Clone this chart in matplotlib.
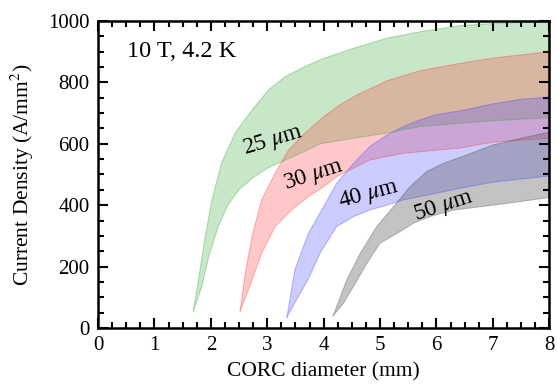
import matplotlib

matplotlib.use("Agg")
import matplotlib.pyplot as plt
import numpy as np
from matplotlib.ticker import MultipleLocator

plt.rcParams["font.family"] = ["Liberation Serif", "DejaVu Serif"]
plt.rcParams["mathtext.fontset"] = "stix"

# Critical current density bands per tape thickness (upper / lower bounds)
d25_up = [1.69, 1.78, 1.90, 2.02, 2.19, 2.43, 2.73, 3.02, 3.32, 3.67, 4.0, 4.53, 5.12, 5.71, 6.42, 7.2, 8.0]
j25_up = [55, 156, 297, 417, 537, 635, 710, 775, 819, 852, 878, 911, 944, 965, 985, 994, 997]
d25_lo = [1.69, 1.84, 1.96, 2.13, 2.3, 2.5, 2.75, 3.0, 3.3, 3.6, 3.94, 4.53, 5.12, 5.71, 6.42, 7.0, 8.0]
j25_lo = [55, 135, 230, 330, 400, 450, 490, 520, 545, 570, 600, 618, 635, 656, 667, 675, 685]

d30_up = [2.52, 2.61, 2.73, 2.9, 3.14, 3.38, 3.67, 4.0, 4.3, 4.6, 5.12, 5.71, 6.42, 7.0, 8.0]
j30_up = [55, 178, 297, 417, 504, 580, 635, 688, 728, 760, 805, 838, 862, 879, 900]
d30_lo = [2.52, 2.73, 2.9, 3.14, 3.43, 3.73, 4.0, 4.23, 4.82, 5.41, 6.42, 7.0, 8.0]
j30_lo = [55, 156, 243, 330, 384, 428, 460, 493, 547, 569, 586, 605, 618]

d40_up = [3.35, 3.49, 3.73, 4.0, 4.23, 4.53, 4.82, 5.12, 5.41, 5.71, 6.0, 6.5, 7.0, 7.5, 8.0]
j40_up = [35, 189, 308, 395, 471, 536, 591, 628, 656, 678, 695, 710, 730, 745, 752]
d40_lo = [3.35, 3.5, 3.73, 3.94, 4.23, 4.53, 4.82, 5.12, 5.41, 5.71, 6.42, 7.0, 8.0]
j40_lo = [35, 85, 160, 245, 330, 363, 384, 400, 417, 428, 455, 475, 495]

d50_up = [4.17, 4.41, 4.65, 4.94, 5.24, 5.53, 5.83, 6.12, 6.42, 7.0, 7.5, 8.0]
j50_up = [40, 156, 243, 330, 395, 460, 510, 536, 556, 596, 618, 638]
d50_lo = [4.17, 4.35, 4.53, 4.77, 5.0, 5.3, 5.59, 5.89, 6.3, 7.0, 7.5, 8.0]
j50_lo = [40, 80, 135, 211, 276, 308, 341, 363, 384, 400, 412, 425]

bands = [
    ("25 $\\mu$m", d25_up, j25_up, d25_lo, j25_lo, "#3caa3c", 0.28),
    ("30 $\\mu$m", d30_up, j30_up, d30_lo, j30_lo, "#ff3c3c", 0.28),
    ("40 $\\mu$m", d40_up, j40_up, d40_lo, j40_lo, "#4b4bff", 0.28),
    ("50 $\\mu$m", d50_up, j50_up, d50_lo, j50_lo, "#555555", 0.35),
]

# label placement (diameter, current density, rotation)
label_pos = [(3.11, 612, 17), (3.82, 498, 18), (4.81, 435, 15), (6.13, 398, 18)]

fig = plt.figure(figsize=(5.57, 3.89), dpi=100)
ax = fig.add_axes([0.176, 0.157, 0.81, 0.789])

for (name, xu, yu, xl, yl, color, alpha), (lx, ly, rot) in zip(bands, label_pos):
    px = np.concatenate([xu, xl[::-1]])
    py = np.concatenate([yu, yl[::-1]])
    ax.fill(px, py, facecolor=color, alpha=alpha, edgecolor="none")
    ax.plot(xu, yu, color=color, alpha=0.35, lw=0.8)
    ax.plot(xl, yl, color=color, alpha=0.35, lw=0.8)
    ax.text(lx, ly, name, rotation=rot, ha="center", va="center", fontsize=17)

ax.text(0.52, 902, "10 T, 4.2 K", fontsize=17.5, va="center")

ax.set_xlim(0, 8)
ax.set_ylim(0, 1000)
ax.xaxis.set_major_locator(MultipleLocator(1))
ax.xaxis.set_minor_locator(MultipleLocator(0.25))
ax.yaxis.set_major_locator(MultipleLocator(200))
ax.yaxis.set_minor_locator(MultipleLocator(50))
ax.tick_params(which="both", direction="in", top=True, right=True, width=1.5, labelsize=15)
ax.tick_params(which="major", length=7, pad=6)
ax.tick_params(which="minor", length=4)
for s in ax.spines.values():
    s.set_linewidth(1.8)

ax.set_xlabel("CORC diameter (mm)", fontsize=15.5, labelpad=5)
ax.set_ylabel("Current Density (A/mm$^2$)", fontsize=15.5, labelpad=9)

fig.savefig("out.png", dpi=100)
